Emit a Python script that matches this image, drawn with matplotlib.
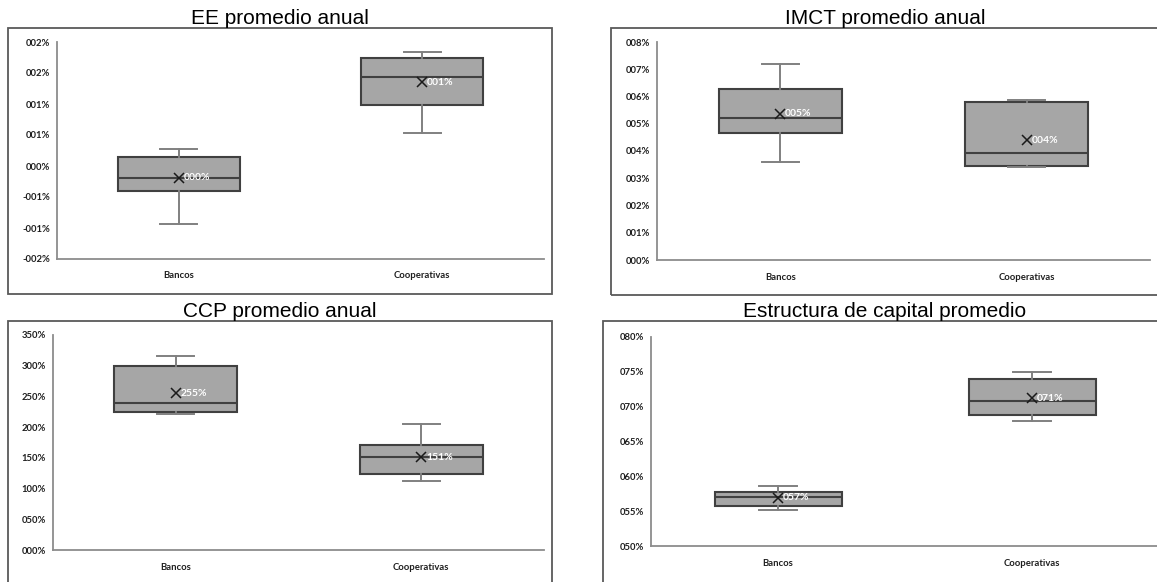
from decimal import Decimal, ROUND_HALF_UP

import numpy as np
import matplotlib
matplotlib.use('Agg')
import matplotlib.pyplot as plt
from matplotlib.patches import Rectangle
from matplotlib.ticker import FuncFormatter

categories = ['Bancos', 'Cooperativas']

# five-number summaries in percent: whisker low, Q1, median, Q3, whisker high
ee_bancos = [-0.93, -0.40, -0.19, 0.15, 0.27]
ee_coops = [0.54, 0.99, 1.44, 1.75, 1.84]
ee_means = [-0.19, 1.35]

imct_bancos = [3.61, 4.66, 5.21, 6.26, 7.21]
imct_coops = [3.42, 3.45, 3.94, 5.80, 5.86]
imct_means = [5.36, 4.40]

ccp_bancos = [222, 224, 240, 300, 316]
ccp_coops = [112, 124, 152, 171, 205]
ccp_means = [255, 151]

ec_bancos = [55.1, 55.8, 57.1, 57.7, 58.6]
ec_coops = [68.0, 68.8, 70.8, 74.0, 75.0]
ec_means = [56.9, 71.2]

W, H = 1157, 582
BOX_FILL = '#a6a6a6'
BOX_EDGE = '#404040'
WHISKER = '#808080'
FRAME = '#595959'
SPINE = '#8c8c8c'


def pct_label(v, pos=None):
    n = int(Decimal(str(round(v, 6))).quantize(Decimal('1'), rounding=ROUND_HALF_UP))
    return ('-' if n < 0 else '') + f'{abs(n):03d}%'


def px_axes(fig, left, top, right, bottom):
    return fig.add_axes([left / W, 1 - bottom / H, (right - left) / W, (bottom - top) / H])


def px_frame(fig, left, top, right, bottom):
    fig.add_artist(Rectangle((left / W, 1 - bottom / H), (right - left) / W, (bottom - top) / H,
                             transform=fig.transFigure, fill=False,
                             edgecolor=FRAME, linewidth=1.3))


def draw_panel(fig, title, bancos, coops, means, ylim, step, ax_box, frame_box, title_xy):
    px_frame(fig, *frame_box)
    fig.text(title_xy[0] / W, 1 - title_xy[1] / H, title, ha='center', va='baseline',
             fontsize=15, family='Liberation Sans')

    ax = px_axes(fig, *ax_box)
    stats = []
    for name, s, m in zip(categories, [bancos, coops], means):
        stats.append(dict(label=name, whislo=s[0], q1=s[1], med=s[2], q3=s[3],
                          whishi=s[4], mean=m, fliers=[]))
    ax.bxp(stats, positions=[1, 2], widths=0.5, patch_artist=True, showmeans=True,
           showfliers=False, capwidths=0.15,
           boxprops=dict(facecolor=BOX_FILL, edgecolor=BOX_EDGE, linewidth=1.5),
           medianprops=dict(color=BOX_EDGE, linewidth=1.5),
           whiskerprops=dict(color=WHISKER, linewidth=1.4),
           capprops=dict(color=WHISKER, linewidth=1.4),
           meanprops=dict(marker='x', markeredgecolor='#1a1a1a', markersize=7,
                          markeredgewidth=1.1))

    for x, m in zip([1, 2], means):
        ax.annotate(pct_label(m), (x, m), xytext=(3.5, 0), textcoords='offset points',
                    ha='left', va='center', color='white', fontsize=7.5,
                    family='Lato', fontweight='bold')

    ax.set_xlim(0.5, 2.5)
    ax.set_ylim(*ylim)
    ax.set_yticks(np.arange(ylim[0], ylim[1] + step / 2, step))
    ax.yaxis.set_major_formatter(FuncFormatter(pct_label))
    ax.tick_params(axis='both', length=0, labelsize=6.8, labelcolor='#1f1f1f')
    ax.tick_params(axis='y', pad=5)
    ax.tick_params(axis='x', pad=9)
    for lab in ax.get_xticklabels() + ax.get_yticklabels():
        lab.set_family('Lato')
        lab.set_fontweight('bold')
    for side in ['top', 'right']:
        ax.spines[side].set_visible(False)
    for side in ['left', 'bottom']:
        ax.spines[side].set_color(SPINE)
        ax.spines[side].set_linewidth(1.3)
    ax.set_facecolor('none')
    return ax


fig = plt.figure(figsize=(W / 100, H / 100), dpi=100)
fig.patch.set_facecolor('white')

draw_panel(fig, 'EE promedio anual', ee_bancos, ee_coops, ee_means, (-1.5, 2.0), 0.5,
           (57, 42, 544, 259), (8, 28, 552, 294), (280, 24))
draw_panel(fig, 'IMCT promedio anual', imct_bancos, imct_coops, imct_means, (0, 8), 1,
           (657, 42, 1150, 260), (611, 28, 1159, 295), (885, 24))
draw_panel(fig, 'CCP promedio anual', ccp_bancos, ccp_coops, ccp_means, (0, 350), 50,
           (53, 335, 544, 550), (8, 321, 552, 600), (280, 317))
draw_panel(fig, 'Estructura de capital promedio', ec_bancos, ec_coops, ec_means, (50, 80), 5,
           (651, 337, 1159, 546), (603, 321, 1167, 600), (885, 317))

fig.savefig('out.png', dpi=100)
